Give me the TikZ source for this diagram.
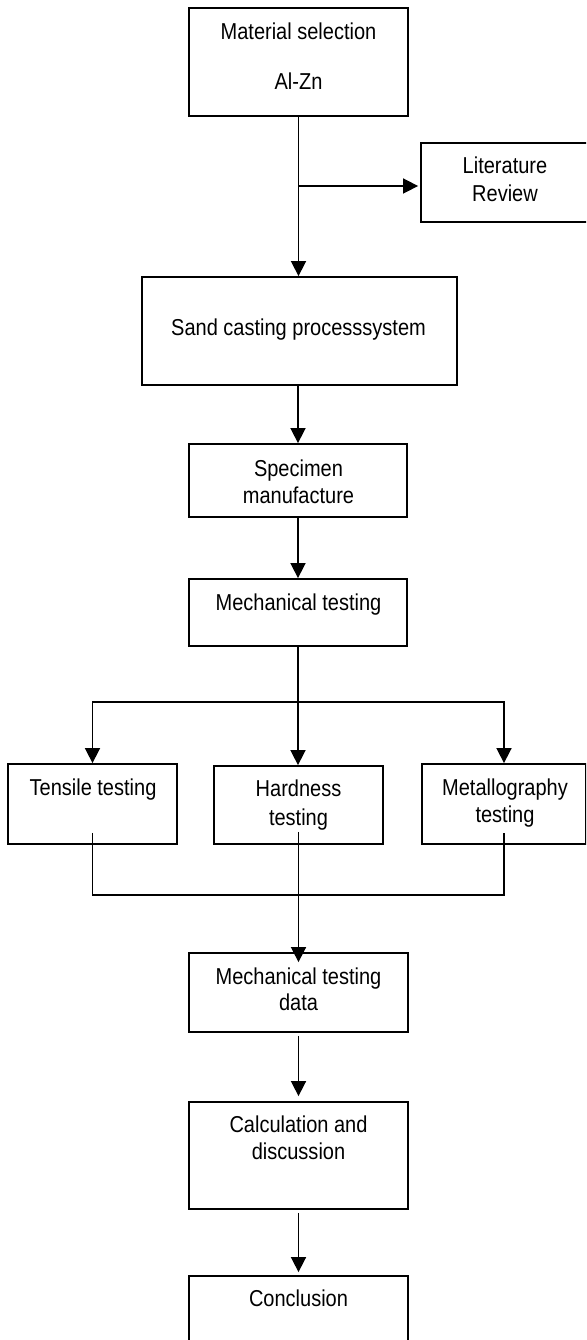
\documentclass[tikz,border=0pt]{standalone}
\usepackage{fontspec}
\setmainfont{Liberation Sans}[FakeStretch=0.87]
\usetikzlibrary{arrows.meta,calc}
\begin{document}
\begin{tikzpicture}[x=1pt,y=-1pt,
  bx/.style={draw=black, line width=1.8pt, inner sep=0pt, fill=none},
  tx/.style={anchor=base, inner sep=0pt, font=\fontsize{23}{27}\selectfont},
  ln/.style={draw=black, line width=1.6pt},
  arr/.style={ln, -{Triangle[width=15pt,length=15pt]}}]
\clip (0,0) rectangle (586,1340);
\fill[white] (0,0) rectangle (586,1340);
% boxes
\node[bx, minimum width=219pt, minimum height=108pt] (ms) at (298.5,62) {};
\node[bx, minimum width=179pt, minimum height=79pt] (lit) at (510.5,182.5) {};
\node[bx, minimum width=315pt, minimum height=108pt] (sc) at (299.5,331) {};
\node[bx, minimum width=218pt, minimum height=73pt] (sp) at (298,480.5) {};
\node[bx, minimum width=218pt, minimum height=67pt] (mt) at (298,612.5) {};
\node[bx, minimum width=169pt, minimum height=80pt] (tt) at (92.5,804) {};
\node[bx, minimum width=169pt, minimum height=78pt] (ht) at (298.5,805) {};
\node[bx, minimum width=164pt, minimum height=80pt] (mg) at (504,804) {};
\node[bx, minimum width=219pt, minimum height=79pt] (md) at (298.5,992.5) {};
\node[bx, minimum width=219pt, minimum height=107pt] (cd) at (298.5,1155.5) {};
\node[bx, minimum width=219pt, minimum height=84pt] (cc) at (298.5,1318) {};
% texts
\node[tx] (t1) at (298.5,39.3) {Material selection};
\node[tx] (t2) at (298.5,89.3) {Al-Zn};
\node[tx] (t3) at (505,173.3) {Literature};
\node[tx] (t4) at (505,201.7) {Review};
\node[tx] (t5) at (298.5,335) {Sand casting processsystem};
\node[tx] (t6) at (298.5,476) {Specimen};
\node[tx] (t7) at (298.5,503.3) {manufacture};
\node[tx] (t8) at (298.5,610.7) {Mechanical testing};
\node[tx] (t9) at (93,795) {Tensile testing};
\node[tx] (t10) at (298.5,796.7) {Hardness};
\node[tx] (t11) at (298.5,825) {testing};
\node[tx] (t12) at (505,795) {Metallography};
\node[tx] (t13) at (505,822.7) {testing};
\node[tx] (t14) at (298.5,984) {Mechanical testing};
\node[tx] (t15) at (298.5,1010.7) {data};
\node[tx] (t16) at (298.5,1132.7) {Calculation and};
\node[tx] (t17) at (298.5,1159) {discussion};
\node[tx] (t18) at (298.5,1306.7) {Conclusion};
% connectors
\draw[arr] (ms.south) -- (ms.south |- sc.north);
\coordinate (b1) at (298.5,186);
\draw[arr, shorten >=2pt] (b1) -- (b1 -| lit.west);
\draw[arr] (sp.north |- sc.south) -- (sp.north);
\draw[arr] (sp.south) -- (mt.north);
\draw[arr] (mt.south) -- (mt.south |- ht.north);
\coordinate (b2) at (298,702);
\draw[arr] (b2) -| (tt.north);
\draw[arr] (b2) -| (mg.north);
\coordinate (ja) at ($(tt.south)+(0,-12)$);
\coordinate (jc) at ($(mg.south)+(0,-12)$);
\coordinate (jb) at ($(ht.south)+(0,-13)$);
\coordinate (jy) at (298.5,895);
\draw[ln] (ja) |- (jy) -| (jc);
\draw[arr, shorten >=-10pt] (jb) -- (md.north);
\draw[arr, shorten <=3pt, shorten >=5pt] (md.south) -- (cd.north);
\draw[arr, shorten <=3pt, shorten >=3pt] (cd.south) -- (cc.north);
\end{tikzpicture}
\end{document}
